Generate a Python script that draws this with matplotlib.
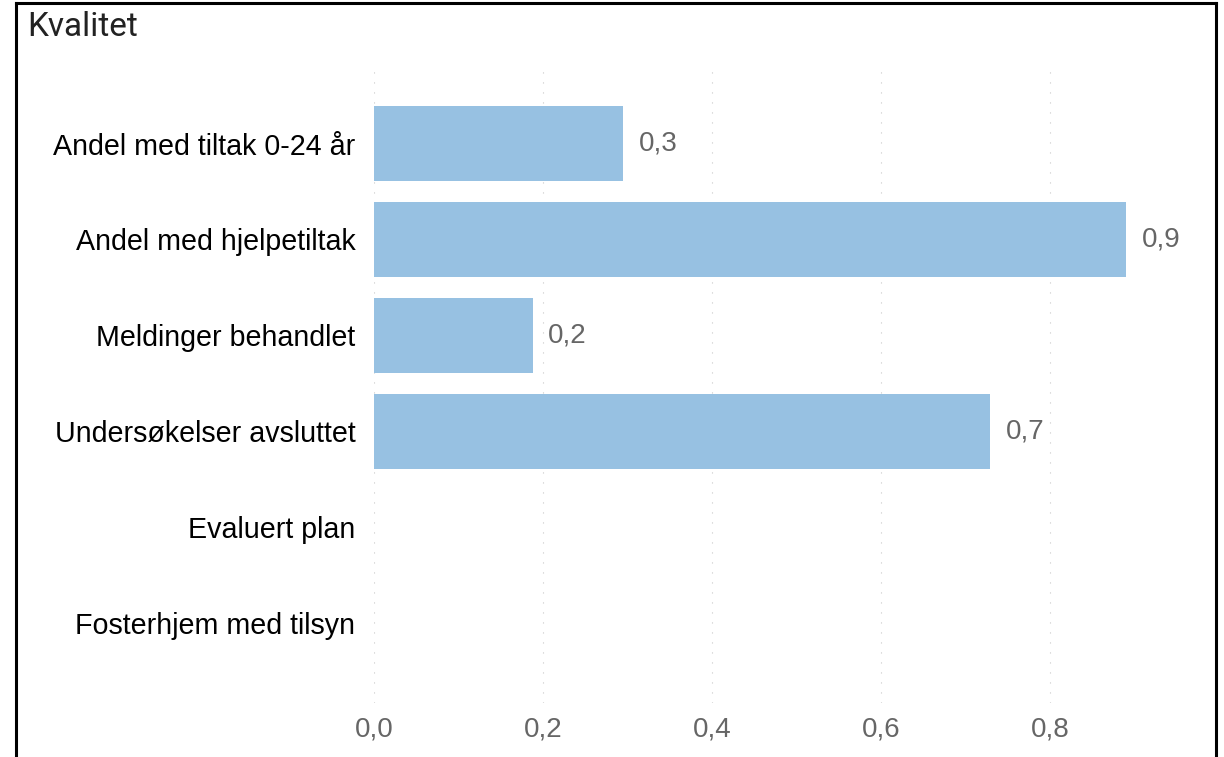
import matplotlib
matplotlib.use("Agg")
import matplotlib.pyplot as plt
from matplotlib.lines import Line2D

categories = ["Andel med tiltak 0-24 år", "Andel med hjelpetiltak", "Meldinger behandlet",
              "Undersøkelser avsluttet", "Evaluert plan", "Fosterhjem med tilsyn"]
values = [0.295, 0.89, 0.188, 0.729, None, None]
xticks = [0.0, 0.2, 0.4, 0.6, 0.8]
title = "Kvalitet"

W, H = 1224, 757
fig = plt.figure(figsize=(W / 100, H / 100), dpi=100)
ax = fig.add_axes([374 / W, 1 - 703 / H, (1200 - 374) / W, (703 - 70) / H])

ypos = list(range(len(categories)))
for y, v in zip(ypos, values):
    if v is None:
        continue
    ax.barh(y, v, height=0.78, color="#97c1e2", zorder=2)
    ax.text(v + 0.018, y, f"{v:.1f}".replace(".", ","), va="center", ha="left",
            fontsize=20, color="#666666", family="Liberation Sans")

ax.set_xlim(0, 0.977)
ax.set_ylim(5.83, -0.766)
ax.set_yticks(ypos)
ax.set_yticklabels(categories, fontsize=20.6, color="#000000", family="Liberation Sans")
ax.set_xticks(xticks)
ax.set_xticklabels([f"{t:.1f}".replace(".", ",") for t in xticks], fontsize=20,
                   color="#666666", family="Liberation Sans")
ax.tick_params(axis="both", length=0)
ax.tick_params(axis="y", pad=13.5)
ax.tick_params(axis="x", pad=9.5)
for s in ax.spines.values():
    s.set_visible(False)
ax.grid(axis="x", color="#c8c8c8", linewidth=0.8, linestyle=(0, (1, 8)), zorder=0)
ax.set_axisbelow(True)

fig.text(27 / W, 1 - 27 / H, title, fontsize=24, color="#222222", family="Roboto",
         va="center", ha="left")

# border frame
lw = 2.2
fig.add_artist(Line2D([16 / W, 16 / W], [0, 1 - 3 / H], color="black", lw=lw, transform=fig.transFigure))
fig.add_artist(Line2D([1216 / W, 1216 / W], [0, 1 - 3 / H], color="black", lw=lw, transform=fig.transFigure))
fig.add_artist(Line2D([16 / W, 1216 / W], [1 - 3 / H, 1 - 3 / H], color="black", lw=lw, transform=fig.transFigure))

fig.savefig("out.png", dpi=100)
